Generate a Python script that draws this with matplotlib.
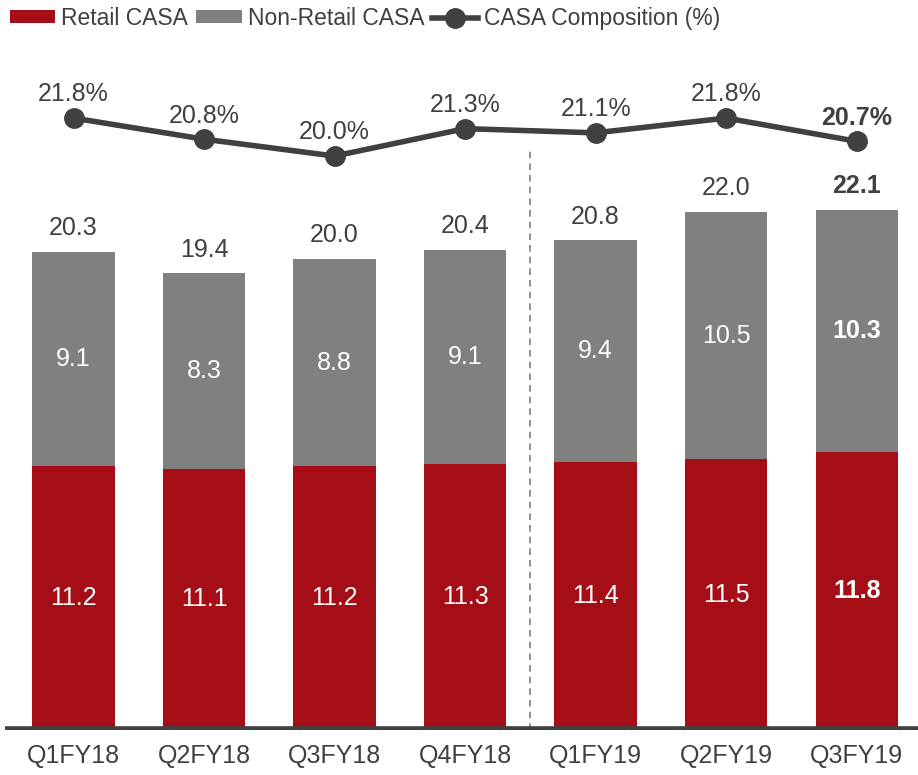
import matplotlib.pyplot as plt

plt.rcParams['font.family'] = ['Liberation Sans', 'DejaVu Sans']

quarters = ["Q1FY18", "Q2FY18", "Q3FY18", "Q4FY18", "Q1FY19", "Q2FY19", "Q3FY19"]
retail = [11.2, 11.1, 11.2, 11.3, 11.4, 11.5, 11.8]
non_retail = [9.1, 8.3, 8.8, 9.1, 9.4, 10.5, 10.3]
totals = [20.3, 19.4, 20.0, 20.4, 20.8, 22.0, 22.1]
composition = [21.8, 20.8, 20.0, 21.3, 21.1, 21.8, 20.7]

RED = "#A50E16"
GRAY = "#808080"
DARK = "#404040"
FS = 18

fig = plt.figure(figsize=(9.18, 7.75), dpi=100)
ax = fig.add_axes([5 / 918, 45 / 775, 913 / 918, 690 / 775])
ax2 = ax.twinx()

x = list(range(len(quarters)))
w = 0.63
b1 = ax.bar(x, retail, w, color=RED, label="Retail CASA")
b2 = ax.bar(x, non_retail, w, bottom=retail, color=GRAY, label="Non-Retail CASA")

last = len(quarters) - 1
for i in x:
    wt = "bold" if i == last else "normal"
    ax.text(i, retail[i] / 2, f"{retail[i]:.1f}", ha="center", va="center",
            color="white", fontsize=FS, fontweight=wt)
    ax.text(i, retail[i] + non_retail[i] / 2, f"{non_retail[i]:.1f}", ha="center",
            va="center", color="white", fontsize=FS, fontweight=wt)
    ax.annotate(f"{totals[i]:.1f}", (i, totals[i]), xytext=(0, 17),
                textcoords="offset points", ha="center", va="center",
                color=DARK, fontsize=FS, fontweight=wt)

ln, = ax2.plot(x, composition, color=DARK, lw=4, marker="o", ms=14,
               label="CASA Composition (%)")
for i in x:
    wt = "bold" if i == last else "normal"
    ax2.annotate(f"{composition[i]:.1f}%", (i, composition[i]), xytext=(0, 17),
                 textcoords="offset points", ha="center", va="center",
                 color=DARK, fontsize=FS, fontweight=wt)

# separator between FY18 and FY19
ax.plot([3.5, 3.5], [0, 24.6], color="#808080", lw=1.2, ls=(0, (4, 3)))
ax.axhline(0, color=DARK, lw=5.5, zorder=5)

ax.set_xlim(-0.525, 6.47)
ax.set_ylim(0, 29.3)
ax2.set_ylim(-7.2, 25.5)
for a in (ax, ax2):
    for s in a.spines.values():
        s.set_visible(False)
    a.set_yticks([])
ax.set_xticks(x)
ax.set_xticklabels(quarters, fontsize=FS, color=DARK)
ax.tick_params(axis="x", length=0, pad=10)

fig.legend(handles=[b1, b2, ln], loc="upper left", bbox_to_anchor=(-0.012, 1.018),
           ncol=3, frameon=False, fontsize=16.5, handlelength=2.0,
           handleheight=0.45, handletextpad=0.25, columnspacing=0.35,
           labelcolor=DARK)

fig.savefig("out.png", dpi=100)
